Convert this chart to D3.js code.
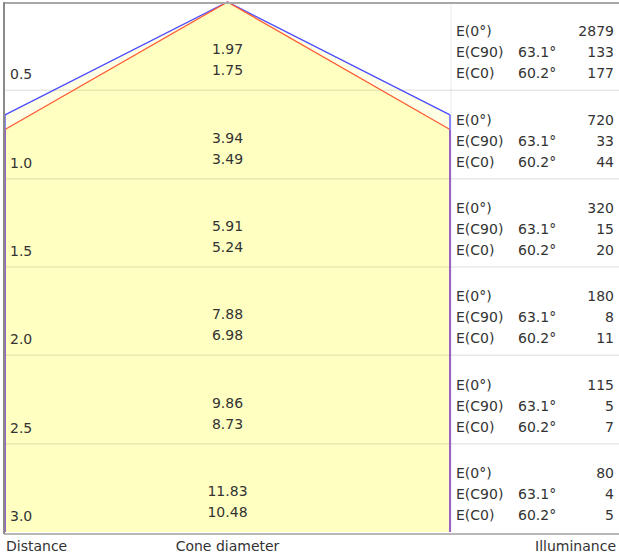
<!DOCTYPE html>
<html>
<head>
<meta charset="utf-8">
<script src="https://cdn.jsdelivr.net/npm/d3@7"></script>
<style>
  body { margin: 0; background: #fff; }
  text { font-family: "DejaVu Sans", Verdana, sans-serif; fill: #333; }
</style>
</head>
<body>
<div id="chart"></div>
<script>
// chart size
const width = 619;
const height = 560;
const fs = "14px";

// data
const distances = [0.5, 1.0, 1.5, 2.0, 2.5, 3.0];
const coneC90 = [1.97, 3.94, 5.91, 7.88, 9.86, 11.83];
const coneC0 = [1.75, 3.49, 5.24, 6.98, 8.73, 10.48];
const illumAxis = [2879, 720, 320, 180, 115, 80];
const illumC90 = [133, 33, 15, 8, 5, 4];
const illumC0 = [177, 44, 20, 11, 7, 5];
const halfAngles = [63.1, 60.2]; // C90, C0
const rowLabels = ["E(0°)", "E(C90)", "E(C0)"];

const svg = d3.select("#chart")
  .append("svg")
  .attr("width", width)
  .attr("height", height);

// scales: distance down, cone radius across (same metres per pixel)
const yScale = d3.scaleLinear().domain([0, 3]).range([2, 532]);
const xScale = d3.scaleLinear().domain([-1.26, 1.26]).range([5, 450]);
const R = 1.26;
const tC90 = Math.tan(halfAngles[0] * Math.PI / 180);
const tC0 = Math.tan(halfAngles[1] * Math.PI / 180);

// cone outline for a given tan(half angle)
function conePts(t) {
  return [[-R, 3], [-R, R / t], [0, 0], [R, R / t], [R, 3]];
}
const line = d3.line().x(d => xScale(d[0])).y(d => yScale(d[1]));

// fills
svg.append("path")
  .attr("d", line(conePts(tC90)) + "Z")
  .attr("fill", "#ffffe6");
svg.append("path")
  .attr("d", line(conePts(tC0)) + "Z")
  .attr("fill", "#ffffc2");

// horizontal row lines
svg.selectAll(".grid")
  .data(distances.slice(0, 5))
  .enter()
  .append("line")
  .attr("x1", 5)
  .attr("x2", width)
  .attr("y1", d => yScale(d))
  .attr("y2", d => yScale(d))
  .attr("stroke", "#000")
  .attr("stroke-opacity", 0.09)
  .attr("stroke-width", 1.5);

// vertical separator of the table column (white part)
svg.append("line")
  .attr("x1", xScale(R) + 1).attr("x2", xScale(R) + 1)
  .attr("y1", yScale(0)).attr("y2", yScale(3))
  .attr("stroke", "#000").attr("stroke-opacity", 0.08);

// slanted cone edges
const edge = t => [[-R, R / t], [0, 0], [R, R / t]];
svg.append("path")
  .attr("d", line(edge(tC90)))
  .attr("fill", "none")
  .attr("stroke", "#4b4bff")
  .attr("stroke-width", 1.3);
svg.append("path")
  .attr("d", line(edge(tC0)))
  .attr("fill", "none")
  .attr("stroke", "#ff5a32")
  .attr("stroke-width", 1.3);

// vertical sides: blue above the red edge, purple below
[-R, R].forEach(function (s) {
  svg.append("line")
    .attr("x1", xScale(s)).attr("x2", xScale(s))
    .attr("y1", yScale(R / tC90)).attr("y2", yScale(R / tC0))
    .attr("stroke", "#4b4bff").attr("stroke-width", 1.3);
  svg.append("line")
    .attr("x1", xScale(s)).attr("x2", xScale(s))
    .attr("y1", yScale(R / tC0)).attr("y2", yScale(3))
    .attr("stroke", "#9a62c8").attr("stroke-width", 2);
});

// outer frame
svg.append("line").attr("x1", 4).attr("x2", width).attr("y1", 3).attr("y2", 3)
  .attr("stroke", "#a8a8a8").attr("stroke-width", 2);
svg.append("line").attr("x1", 4).attr("x2", 4).attr("y1", 2).attr("y2", yScale(3) + 2)
  .attr("stroke", "#8a8a8a").attr("stroke-width", 2);
svg.append("line").attr("x1", 4).attr("x2", width).attr("y1", yScale(3) + 2).attr("y2", yScale(3) + 2)
  .attr("stroke", "#a0a0a0").attr("stroke-width", 1.5);

// distance labels
svg.selectAll(".dist")
  .data(distances)
  .enter()
  .append("text")
  .attr("x", 10)
  .attr("y", d => yScale(d) - 11)
  .attr("font-size", fs)
  .text(d => d.toFixed(1));

// cone diameters
svg.selectAll(".c90")
  .data(coneC90)
  .enter()
  .append("text")
  .attr("x", xScale(0))
  .attr("y", (d, i) => yScale(distances[i]) - 36)
  .attr("text-anchor", "middle")
  .attr("font-size", fs)
  .text(d => d.toFixed(2));
svg.selectAll(".c0")
  .data(coneC0)
  .enter()
  .append("text")
  .attr("x", xScale(0))
  .attr("y", (d, i) => yScale(distances[i]) - 15)
  .attr("text-anchor", "middle")
  .attr("font-size", fs)
  .text(d => d.toFixed(2));

// illuminance table
const offsets = [-54, -33, -12];
distances.forEach(function (dist, i) {
  const base = yScale(dist);
  const vals = [illumAxis[i], illumC90[i], illumC0[i]];
  const angs = ["", halfAngles[0].toFixed(1) + "°", halfAngles[1].toFixed(1) + "°"];
  rowLabels.forEach(function (lab, j) {
    svg.append("text")
      .attr("x", 456).attr("y", base + offsets[j])
      .attr("font-size", fs)
      .text(lab);
    svg.append("text")
      .attr("x", 518).attr("y", base + offsets[j])
      .attr("font-size", fs)
      .text(angs[j]);
    svg.append("text")
      .attr("x", 614).attr("y", base + offsets[j])
      .attr("text-anchor", "end")
      .attr("font-size", fs)
      .text(vals[j]);
  });
});

// bottom captions
svg.append("text").attr("x", 6).attr("y", 551).attr("font-size", fs).text("Distance");
svg.append("text").attr("x", xScale(0)).attr("y", 551).attr("text-anchor", "middle")
  .attr("font-size", fs).text("Cone diameter");
svg.append("text").attr("x", 616).attr("y", 551).attr("text-anchor", "end")
  .attr("font-size", fs).text("Illuminance");
</script>
</body>
</html>
